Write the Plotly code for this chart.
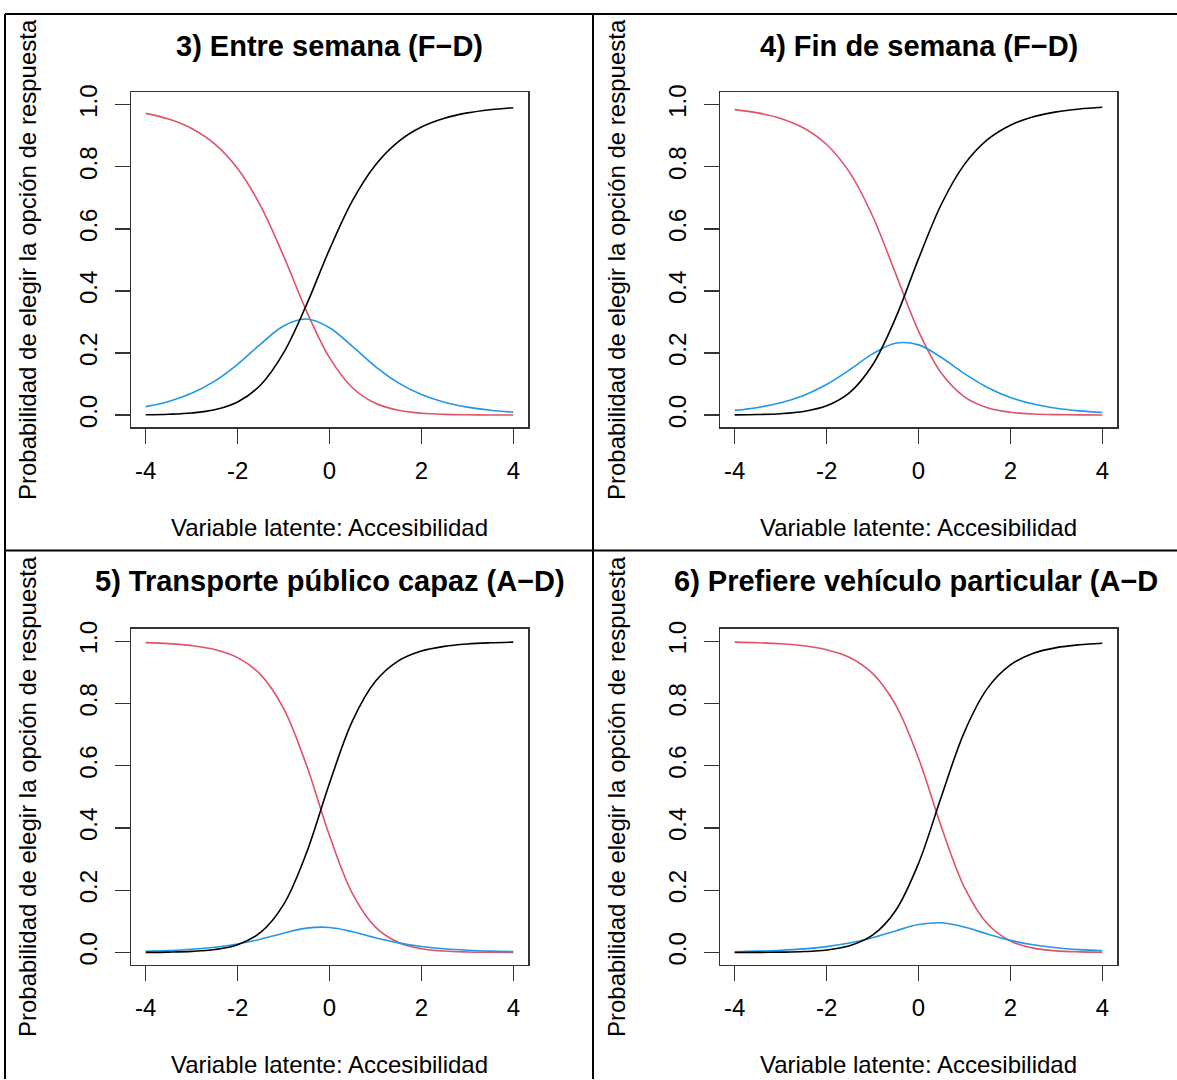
import plotly.graph_objects as go

W, H = 1177, 1080

# ---------------- data ----------------
theta = [-4.0, -3.5, -3.0, -2.5, -2.0, -1.5, -1.0, -0.5, 0.0,
         0.5, 1.0, 1.5, 2.0, 2.5, 3.0, 3.5, 4.0]

titles = [
    "3) Entre semana (F\u2212D)",
    "4) Fin de semana (F\u2212D)",
    "5) Transporte público capaz (A\u2212D)",
    "6) Prefiere vehículo particular (A\u2212D",
]

x_tick_vals = [-4, -2, 0, 2, 4]
x_tick_text = ["-4", "-2", "0", "2", "4"]
y_tick_vals = [0.0, 0.2, 0.4, 0.6, 0.8, 1.0]
y_tick_text = ["0.0", "0.2", "0.4", "0.6", "0.8", "1.0"]

x_label = "Variable latente: Accesibilidad"
y_label = "Probabilidad de elegir la opción de respuesta"

# panel 3) Entre semana
p3_red = [0.9720, 0.9537, 0.9234, 0.8738, 0.7943, 0.6742, 0.5127, 0.3350, 0.1849,
          0.0881, 0.0378, 0.0152, 0.0059, 0.0022, 0.0008, 0.0003, 0.0001]
p3_blue = [0.0271, 0.0438, 0.0700, 0.1092, 0.1636, 0.2289, 0.2871, 0.3093, 0.2814,
           0.2210, 0.1563, 0.1037, 0.0662, 0.0414, 0.0256, 0.0157, 0.0096]
p3_black = [0.0009, 0.0025, 0.0066, 0.0170, 0.0420, 0.0969, 0.2003, 0.3557, 0.5337,
            0.6910, 0.8059, 0.8811, 0.9279, 0.9564, 0.9736, 0.9840, 0.9903]

# panel 4) Fin de semana
p4_red = [0.9843, 0.9738, 0.9558, 0.9250, 0.8718, 0.7819, 0.6415, 0.4565, 0.2707,
          0.1346, 0.0588, 0.0238, 0.0092, 0.0035, 0.0013, 0.0005, 0.0002]
p4_blue = [0.0151, 0.0246, 0.0398, 0.0634, 0.0985, 0.1457, 0.1971, 0.2313, 0.2261,
           0.1853, 0.1335, 0.0890, 0.0568, 0.0354, 0.0219, 0.0134, 0.0082]
p4_black = [0.0006, 0.0017, 0.0044, 0.0116, 0.0297, 0.0724, 0.1614, 0.3122, 0.5032,
            0.6801, 0.8077, 0.8873, 0.9340, 0.9611, 0.9768, 0.9861, 0.9917]

# panel 5) Transporte público capaz
p5_red = [0.9956, 0.9923, 0.9859, 0.9734, 0.9474, 0.8929, 0.7845, 0.6015, 0.3756,
          0.1891, 0.0814, 0.0322, 0.0123, 0.0046, 0.0017, 0.0006, 0.0002]
p5_blue = [0.0039, 0.0064, 0.0105, 0.0171, 0.0275, 0.0427, 0.0619, 0.0782, 0.0805,
           0.0668, 0.0475, 0.0310, 0.0194, 0.0120, 0.0073, 0.0044, 0.0027]
p5_black = [0.0005, 0.0013, 0.0035, 0.0095, 0.0251, 0.0644, 0.1537, 0.3203, 0.5438,
            0.7441, 0.8711, 0.9368, 0.9683, 0.9835, 0.9910, 0.9949, 0.9971]

# panel 6) Prefiere vehículo particular
p6_red = [0.9972, 0.9953, 0.9918, 0.9853, 0.9729, 0.9480, 0.8969, 0.7963, 0.6242,
          0.4027, 0.2093, 0.0922, 0.0369, 0.0141, 0.0053, 0.0020, 0.0007]
p6_blue = [0.0026, 0.0043, 0.0071, 0.0116, 0.0189, 0.0304, 0.0474, 0.0694, 0.0897,
           0.0954, 0.0818, 0.0593, 0.0392, 0.0247, 0.0153, 0.0094, 0.0057]
p6_black = [0.0002, 0.0004, 0.0011, 0.0030, 0.0082, 0.0216, 0.0556, 0.1343, 0.2861,
            0.5019, 0.7090, 0.8485, 0.9239, 0.9612, 0.9794, 0.9886, 0.9936]

panels = [
    (p3_red, p3_blue, p3_black),
    (p4_red, p4_blue, p4_black),
    (p5_red, p5_blue, p5_black),
    (p6_red, p6_blue, p6_black),
]

# ---------------- styling ----------------
RED, BLUE, BLACK = "#DF536B", "#2297E6", "#000000"
FONT = "Liberation Sans, Arial, Helvetica, sans-serif"
AX = "#333333"

# plot-box positions in pixels (left, right) / (top, bottom)
col_px = [(131, 528), (720, 1117)]
row_px = [(85, 423), (626, 965)]

fig = go.Figure()
layout = {}
annotations = []

for i, (red, blue, black) in enumerate(panels):
    r, c = divmod(i, 2)
    n = "" if i == 0 else str(i + 1)
    xa, ya = "x" + n, "y" + n
    for vals, col in ((red, RED), (blue, BLUE), (black, BLACK)):
        fig.add_trace(go.Scatter(
            x=theta, y=vals, mode="lines",
            line=dict(color=col, width=1.6, shape="spline", smoothing=1.0),
            xaxis=xa, yaxis=ya, showlegend=False, hoverinfo="skip"))
    l, rr = col_px[c]
    t, b = row_px[r]
    layout["xaxis" + n] = dict(
        domain=[l / W, rr / W], anchor=ya, range=[-4.32, 4.32],
        showline=True, mirror=True, linecolor=AX, linewidth=1.5,
        ticks="outside", ticklen=15, tickwidth=1.3, tickcolor=AX,
        tickvals=x_tick_vals, ticktext=x_tick_text, ticklabelstandoff=6,
        tickfont=dict(family=FONT, size=24, color="black"),
        showgrid=False, zeroline=False,
        title=dict(text=x_label, standoff=36,
                   font=dict(family=FONT, size=24, color="black")),
    )
    layout["yaxis" + n] = dict(
        domain=[1 - b / H, 1 - t / H], anchor=xa, range=[-0.04, 1.04],
        showline=True, mirror=True, linecolor=AX, linewidth=1.5,
        ticks="outside", ticklen=15, tickwidth=1.3, tickcolor=AX,
        tickvals=y_tick_vals, ticktext=y_tick_text, tickangle=-90,
        ticklabelstandoff=8,
        tickfont=dict(family=FONT, size=24, color="black"),
        showgrid=False, zeroline=False,
        title=dict(text=y_label, standoff=31,
                   font=dict(family=FONT, size=24, color="black")),
    )
    # panel title
    ty = [38, 578][r]
    if i == 3:
        annotations.append(dict(
            text="<b>" + titles[i] + "</b>", xref="paper", yref="paper",
            x=672 / W, y=1 - ty / H, xanchor="left", yanchor="middle",
            showarrow=False, font=dict(family=FONT, size=29, color="black")))
    else:
        annotations.append(dict(
            text="<b>" + titles[i] + "</b>", xref="paper", yref="paper",
            x=((l + rr) / 2) / W, y=1 - ty / H, xanchor="center", yanchor="middle",
            showarrow=False, font=dict(family=FONT, size=29, color="black")))

def px_line(x0, y0, x1, y1):
    return dict(type="line", xref="paper", yref="paper",
                x0=x0 / W, y0=1 - y0 / H, x1=x1 / W, y1=1 - y1 / H,
                line=dict(color="black", width=2))

shapes = [
    px_line(5, 6, 1177, 6),
    px_line(5, 6, 5, 1080),
    px_line(593, 6, 593, 1080),
    px_line(5, 547, 1177, 547),
]

fig.update_layout(
    width=W, height=H, autosize=False,
    margin=dict(l=0, r=0, t=0, b=0),
    paper_bgcolor="white", plot_bgcolor="white",
    font=dict(family=FONT, size=24, color="black"),
    annotations=annotations, shapes=shapes, showlegend=False,
    **layout,
)

fig.write_html(
    "out.html",
    config={"displayModeBar": False, "staticPlot": True},
    post_script="document.body.style.margin='0';document.body.style.overflow='hidden';",
)
